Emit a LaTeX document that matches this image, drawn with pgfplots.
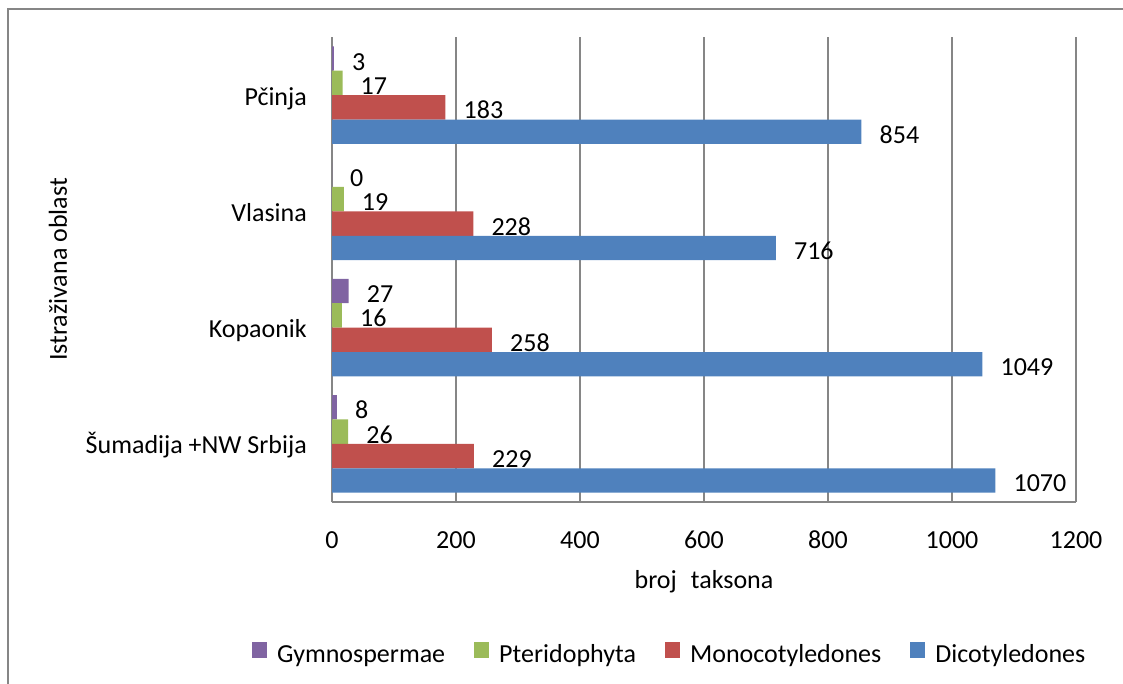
\documentclass[border=0pt]{standalone}
\usepackage{fontspec}
\setmainfont{Carlito}
\usepackage{pgfplots}
\usepackage{pgfplotstable}
\pgfplotsset{compat=1.18}
\definecolor{gridgray}{HTML}{868686}
\definecolor{cG}{HTML}{8064A2}
\definecolor{cP}{HTML}{9BBB59}
\definecolor{cM}{HTML}{C0504D}
\definecolor{cD}{HTML}{4F81BD}
\pgfplotstableread{
y G P M D
0 8 26 229 1070
1 27 16 258 1049
2 0 19 228 716
3 3 17 183 854
}\datatable
\begin{document}
\begin{tikzpicture}[font=\fontsize{26bp}{31bp}\selectfont]
\useasboundingbox (0,0) rectangle (1123bp,684bp);
\draw[gridgray, line width=2bp] (8bp,-10bp) -- (8bp,675bp) -- (1140bp,675bp);
\begin{axis}[
  at={(332bp,182bp)}, anchor=south west,
  width=744bp, height=465bp, scale only axis,
  xbar, bar width=0.21,
  xmin=0, xmax=1200, xtick={0,200,...,1200},
  ymin=-0.5, ymax=3.5, ytick={0,1,2,3},
  yticklabels={Šumadija +NW Srbija, Kopaonik, Vlasina, Pčinja},
  axis lines*=left,
  axis line style={gridgray, line width=1.2bp},
  xmajorgrids, grid style={gridgray, line width=1.2bp},
  major tick length=0pt,
  tick style={draw=none},
  xticklabel style={anchor=base, inner sep=0pt, yshift=-46bp},
  yticklabel style={anchor=base east, inner sep=0pt, xshift=-25bp, yshift=-10bp},
  /pgf/number format/assume math mode=true,
  /pgf/number format/1000 sep={},
  xlabel={broj\hspace{14bp}taksona},
  ylabel={Istraživana oblast},
  every axis x label/.style={at={(axis description cs:0.5,0)}, anchor=base, yshift=-86bp},
  every axis y label/.style={at={(axis description cs:-0.3562,0.5)}, rotate=90, anchor=base},
  nodes near coords,
  every node near coord/.append style={anchor=base west, inner sep=0pt, xshift=18bp, yshift=-11.5bp, black},
  legend columns=4,
  legend image code/.code={\path[#1, draw=none] (0bp,4bp) rectangle (15bp,20bp);},
  legend style={at={(axis description cs:-0.1075,-0.3247)}, anchor=west, draw=none, fill=none,
    inner sep=0pt,
    nodes={inner sep=0pt, anchor=base west},
    /tikz/every odd column/.append style={column sep=10bp},
    /tikz/every even column/.append style={column sep=29bp}},
]
\addplot[fill=cG, draw=none, bar shift=0.315] table[x=G, y=y] {\datatable};
\addplot[fill=cP, draw=none, bar shift=0.105] table[x=P, y=y] {\datatable};
\addplot[fill=cM, draw=none, bar shift=-0.105] table[x=M, y=y] {\datatable};
\addplot[fill=cD, draw=none, bar shift=-0.315] table[x=D, y=y] {\datatable};
\legend{Gymnospermae, Pteridophyta, Monocotyledones, Dicotyledones}
\end{axis}
\end{tikzpicture}
\end{document}
